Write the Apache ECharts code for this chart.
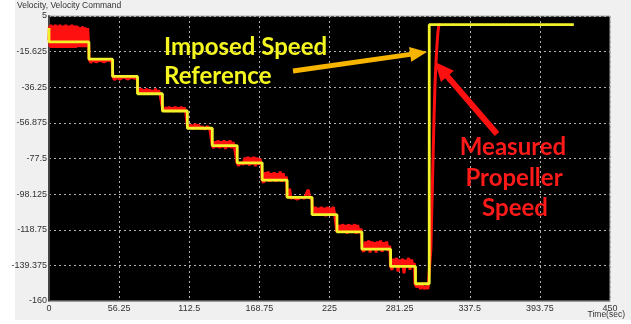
<!DOCTYPE html>
<html><head><meta charset="utf-8">
<script src="https://cdn.jsdelivr.net/npm/echarts@6/dist/echarts.min.js"></script>
<style>html,body{margin:0;padding:0;background:#fff}#c{width:631px;height:324px}</style>
</head><body><div id="c"></div>
<script>
// Axis ticks
const xTicks = [0, 56.25, 112.5, 168.75, 225, 281.25, 337.5, 393.75, 450];
const yTicks = [-160, -139.375, -118.75, -98.125, -77.5, -56.875, -36.25, -15.625, 5];

// Imposed speed reference (step changes: time, new level)
const refTimes  = [0, 0, 32, 51, 71, 91, 111, 131, 151, 171, 191, 211, 231, 251, 274, 294, 305, 421];
const refLevels = [-2, -10, -20, -30, -40, -50, -60, -70, -80, -90, -100, -110, -120, -130, -140, -150, 0, 0];

// Measured propeller speed [time, value]
const measured = [
 [0,-9],[0.4,-1],[0.9,-13],[1.5,0],[2.1,-13.5],[2.7,-0.5],[3.3,-13],[3.9,-0.5],[4.5,-13.5],[5.1,0],[5.7,-13],[6.3,-1],[6.9,-13.5],[7.5,-0.5],[8.1,-13],[8.7,0],[9.3,-13.5],[9.9,-0.5],[10.5,-13],[11.1,-1],[11.7,-13.5],[12.3,-0.5],[12.9,-13],[13.5,0],[14.1,-13.5],[14.7,-0.5],[15.3,-13],[15.9,-1],[16.5,-13.5],[17.1,-0.5],[17.7,-13],[18.3,0],[18.9,-13.5],[19.5,-0.5],[20.1,-13],[20.7,-1],[21.3,-13.5],[21.9,-0.5],[22.5,-13],[23.1,-1],[23.8,-13],[24.6,-1.5],[25.6,-13],[26.8,-1],[27.6,-13],[28.8,-1.5],[29.8,-13],[31,-2],[31.8,-12],[32.3,-20],
 [33.5,-22],[35,-20.5],[38,-21.5],[41,-20.5],[44,-21.5],[47,-20.5],[50.5,-21],[51.3,-30],
 [52.5,-32],[54,-30.5],[57,-31.5],[60,-30],[63,-31.5],[66,-30.5],[69,-31],[70.8,-30.5],[71.3,-40],
 [72.5,-41],[74,-37],[75,-40],[76,-37.5],[77.2,-40.5],[78.3,-37],[79.5,-40],[80.6,-37.5],[81.8,-40.5],[83,-38],[84.2,-40],[85.4,-37],[86.6,-40.5],[87.8,-38],[89,-40],[90.5,-39],[91.4,-50],
 [92.5,-51],[94,-48],[95.2,-50.5],[96.4,-47.5],[97.6,-50],[98.8,-48],[100,-50.5],[101.2,-47.5],[102.4,-50],[103.6,-48],[104.8,-50.5],[106,-47.5],[107.2,-50],[108.4,-48],[109.6,-50],[110.6,-49],[111.2,-60],
 [112.5,-61],[114,-58],[115.5,-60.5],[117,-57.5],[118.5,-60],[120,-58],[121.5,-60.5],[123,-59],[125,-60.5],[127,-59],[129,-60.5],[130.5,-60],[131,-70],
 [132,-71.5],[133.2,-67.5],[134.4,-71],[135.6,-67],[136.8,-71.5],[138,-67.5],[139.2,-71],[140.4,-67],[141.6,-72],[142.8,-67.5],[144,-71],[145.2,-67],[146.4,-71.5],[147.6,-68],[148.8,-71],[150,-70.5],[150.8,-80],
 [152,-81.5],[154,-80],[156,-81],[157.2,-77],[158.4,-81],[159.6,-76.5],[160.8,-81.5],[162,-77],[163.2,-81],[164.4,-76.5],[165.6,-82],[166.8,-77],[168,-81],[169.2,-77.5],[170.4,-81],[171,-90],
 [172.2,-91.5],[173.4,-85.5],[174.6,-90.5],[175.8,-85],[177,-91],[178.2,-86],[179.4,-90.5],[180.6,-85.5],[181.8,-91],[183,-86],[184.2,-90.5],[185.4,-85],[186.6,-91],[187.8,-86],[189,-90.5],[190.4,-88],[191.1,-100],
 [192,-101],[193,-95],[194,-100.5],[196,-100],[199,-101],[202,-100],[205,-100.5],[207,-97],[208,-95.5],[209,-100.5],[210.8,-100],[211.5,-110],
 [212.5,-111],[213.6,-105.5],[214.8,-110],[216,-106],[217.2,-110.5],[218.4,-105.5],[219.6,-110],[220.8,-106],[222,-111],[223.2,-105.5],[224.4,-110],[225.6,-106],[226.8,-110.5],[228,-105.5],[229.2,-110],[230.2,-109],[230.9,-120],
 [232,-121],[233.2,-116],[234.4,-120.5],[235.6,-115.5],[236.8,-120],[238,-116],[239.2,-121],[240.4,-115.5],[241.6,-120.5],[242.8,-116],[244,-120],[245.2,-115.5],[246.4,-121],[247.6,-116],[248.8,-120.5],[250.2,-118],[251.3,-130],
 [252.5,-131.5],[254,-125.5],[255.2,-130.5],[256.4,-125],[257.6,-132],[258.8,-125.5],[260,-130],[261.2,-126],[262.4,-132],[263.6,-125.5],[264.8,-130.5],[266,-125],[267.2,-131.5],[268.4,-126],[269.6,-130],[270.8,-125.5],[272,-131],[273.3,-128],[274,-140],
 [275.2,-142],[276.4,-135.5],[277.6,-140.5],[278.8,-135],[280,-143],[281.2,-136],[282.4,-140],[283.6,-135.5],[284.8,-144],[286,-136],[287.2,-140.5],[288.4,-135],[289.6,-142],[290.8,-136],[292,-140],[293,-138],[293.6,-150],
 [295,-152],[296.5,-150.5],[298,-153],[299.5,-151],[301,-153],[302.5,-151.5],[304,-153],[305.3,-152],
 [306.3,-130],[307.3,-100],[308.8,-55],[309.6,-35],[310.4,-22],[311.2,-12],[312,-4],[312.8,0],[314,0]
];

const refData = refTimes.map((t, i) => [t, refLevels[i]]);

function arrow(x1, y1, x2, y2, color, w, hl, hw) {
  const dx = x2 - x1, dy = y2 - y1, L = Math.hypot(dx, dy);
  const ux = dx / L, uy = dy / L, px = -uy, py = ux;
  const bx = x2 - ux * hl, by = y2 - uy * hl;
  return [
    { type: 'line', shape: { x1: x1, y1: y1, x2: bx + ux * 2, y2: by + uy * 2 }, style: { stroke: color, lineWidth: w }, z: 100 },
    { type: 'polygon', shape: { points: [[x2, y2], [bx + px * hw / 2, by + py * hw / 2], [bx - px * hw / 2, by - py * hw / 2]] }, style: { fill: color }, z: 100 }
  ];
}

const chart = echarts.init(document.getElementById('c'), null, { renderer: 'canvas' });
const lblFont = { fontSize: 9, color: '#333', fontFamily: 'Liberation Sans' };
const annFont = 'Lato';
chart.setOption({
  backgroundColor: '#f0f0f0',
  animation: false,
  grid: { left: 49, top: 16, right: 21, bottom: 23, show: true, backgroundColor: '#000', borderColor: '#aaa', borderWidth: 1 },
  xAxis: {
    type: 'value', min: xTicks[0], max: xTicks[xTicks.length - 1], interval: xTicks[1] - xTicks[0],
    axisLine: { show: true, onZero: false, lineStyle: { color: '#999', width: 1 } },
    axisTick: { show: false },
    axisLabel: Object.assign({ margin: 3, showMaxLabel: true, showMinLabel: true }, lblFont),
    splitLine: { show: true, lineStyle: { color: '#b0b0b0', type: [2, 3], width: 1 } }
  },
  yAxis: {
    type: 'value', min: yTicks[0], max: yTicks[yTicks.length - 1], interval: yTicks[1] - yTicks[0],
    axisLine: { show: true, onZero: false, lineStyle: { color: '#444', width: 2 } },
    axisTick: { show: false },
    axisLabel: Object.assign({ margin: 2, showMaxLabel: true, showMinLabel: true, padding: [0, 0, 4, 0] }, lblFont),
    splitLine: { show: true, lineStyle: { color: '#b0b0b0', type: [2, 3], width: 1 } }
  },
  series: [
    { name: 'Measured', type: 'line', data: measured, showSymbol: false, symbol: 'none',
      lineStyle: { color: '#ff1010', width: 3 }, z: 2 },
    { name: 'Reference', type: 'line', data: refData, step: 'end', showSymbol: false, symbol: 'none',
      lineStyle: { color: '#f2f22a', width: 2.8 }, z: 3 }
  ],
  graphic: [
    { type: 'rect', shape: { x: 0, y: 0, width: 15, height: 324 }, style: { fill: '#fff' }, z: 0 },
    { type: 'rect', shape: { x: 0, y: 320, width: 631, height: 4 }, style: { fill: '#fff' }, z: 0 },
    { type: 'text', x: 17, y: 6, style: { text: 'Velocity, Velocity Command', fontSize: 8.5, fill: '#333', fontFamily: 'Liberation Sans', verticalAlign: 'middle' }, z: 100 },
    { type: 'text', x: 625, y: 315, style: { text: 'Time(sec)', fontSize: 8.5, fill: '#333', fontFamily: 'Liberation Sans', align: 'right', verticalAlign: 'middle' }, z: 100 },
    { type: 'text', x: 164, y: 47, style: { text: 'Imposed Speed', font: 'bold 24px ' + annFont, fill: '#f5f520', verticalAlign: 'middle' }, z: 100 },
    { type: 'text', x: 164, y: 76, style: { text: 'Reference', font: 'bold 24px ' + annFont, fill: '#f5f520', verticalAlign: 'middle' }, z: 100 },
    { type: 'text', x: 513, y: 147, style: { text: 'Measured', font: 'bold 24px ' + annFont, fill: '#ff1a1a', align: 'center', verticalAlign: 'middle' }, z: 100 },
    { type: 'text', x: 514, y: 178, style: { text: 'Propeller', font: 'bold 24px ' + annFont, fill: '#ff1a1a', align: 'center', verticalAlign: 'middle' }, z: 100 },
    { type: 'text', x: 515, y: 208, style: { text: 'Speed', font: 'bold 24px ' + annFont, fill: '#ff1a1a', align: 'center', verticalAlign: 'middle' }, z: 100 }
  ].concat(arrow(293, 71, 427, 52, '#f7b500', 5, 17, 15))
   .concat(arrow(497, 134, 435, 62, '#ff1010', 6, 19, 17))
});
</script></body></html>
